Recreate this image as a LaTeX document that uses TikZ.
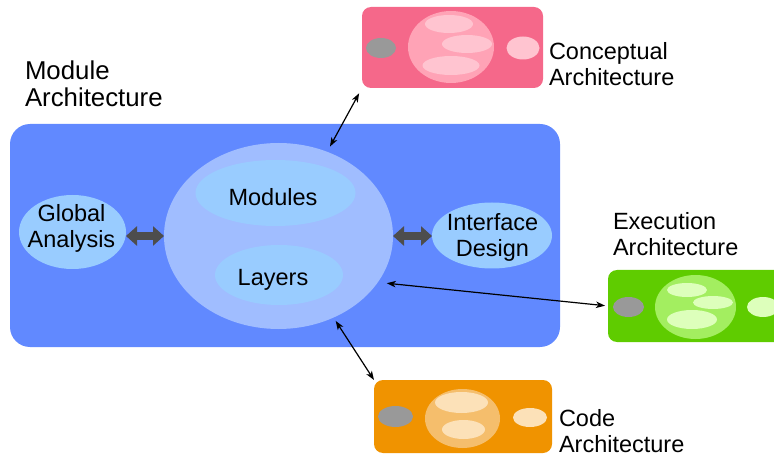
\documentclass[tikz,border=0pt]{standalone}
\usepackage{fontspec}
\setmainfont{Liberation Sans}
\usetikzlibrary{shapes.geometric,arrows.meta,calc}

% palette
\definecolor{mainblue}{HTML}{6189FF}
\definecolor{coreblue}{HTML}{A0BDFF}
\definecolor{paleblue}{HTML}{99CCFF}
\definecolor{fatgray}{HTML}{4D4D4D}
\definecolor{dotgray}{HTML}{999999}
\definecolor{pinkbox}{HTML}{F5688A}
\definecolor{pinkball}{HTML}{FFA3B6}
\definecolor{pinkspot}{HTML}{FFC4D0}
\definecolor{greenbox}{HTML}{5FCC00}
\definecolor{greenball}{HTML}{A3EE60}
\definecolor{greenspot}{HTML}{DDFFBB}
\definecolor{orangebox}{HTML}{F09300}
\definecolor{orangeball}{HTML}{F5BE6C}
\definecolor{orangespot}{HTML}{FCE1B8}

\begin{document}
\begin{tikzpicture}[x=1pt,y=-1pt,
  txt/.style={font=\fontsize{23.5}{26}\selectfont, inner sep=0pt, outer sep=0pt},
  lbl/.style={txt, align=left, anchor=base west},
  biglbl/.style={lbl, font=\fontsize{25.8}{27}\selectfont},
  inlbl/.style={txt, align=center, anchor=base},
  panel/.style={rectangle, draw=none, inner sep=0pt, outer sep=0pt},
  blob/.style={ellipse, draw=none, inner sep=0pt, outer sep=0pt},
  fat/.style={draw=fatgray, line width=8.5pt,
    {Triangle[length=11pt,width=19pt]}-{Triangle[length=11pt,width=19pt]}},
  conn/.style={draw=black, line width=1.2pt,
    {Stealth[length=9pt,width=6.5pt,inset=2.5pt]}-{Stealth[length=9pt,width=6.5pt,inset=2.5pt]}}]
\useasboundingbox (0,0) rectangle (774,457);
\clip (0,0) rectangle (774,457);

% ---- module architecture block ----
\node[panel, fill=mainblue, minimum width=550pt, minimum height=223pt, rounded corners=20pt] (module) at (285,235.5) {};
\node[blob, fill=coreblue, minimum width=229pt, minimum height=186pt] (core) at (278.5,236) {};
\node[blob, fill=paleblue, minimum width=160pt, minimum height=66pt] (modules) at (275.5,193) {};
\node[blob, fill=paleblue, minimum width=128pt, minimum height=60pt] (layers) at (279,275) {};
\node[blob, fill=paleblue, minimum width=107pt, minimum height=74pt] (global) at (72.5,232) {};
\node[blob, fill=paleblue, minimum width=120pt, minimum height=66pt] (iface) at (492,235.5) {};

% multi-line labels are anchored on the baseline of their last line
\node[inlbl] (tmodules) at (273,206) {Modules};
\node[inlbl] (tlayers) at (273,285) {Layers};
\node[inlbl] (tglobal) at (71.5,248) {Global\\Analysis};
\node[inlbl] (tiface) at (492.5,257) {Interface\\Design};

\draw[fat] (global.east |- core.west) -- (core.west);
\draw[fat] (core.east) -- (iface.west |- core.east);

\node[biglbl] (tmodule) at (25,107) {Module\\Architecture};

% ---- conceptual architecture ----
\node[panel, fill=pinkbox, minimum width=181pt, minimum height=81pt, rounded corners=9pt] (concept) at (452.5,47.5) {};
\node[blob, fill=dotgray, minimum width=30pt, minimum height=20pt] (cgray) at (381,48) {};
\node[blob, fill=pinkball, minimum width=86pt, minimum height=72pt] (cball) at (451,47) {};
\node[blob, fill=pinkspot, minimum width=48pt, minimum height=18pt] (cs1) at (449,24) {};
\node[blob, fill=pinkspot, minimum width=50pt, minimum height=18pt] (cs2) at (467,44) {};
\node[blob, fill=pinkspot, minimum width=57pt, minimum height=19pt] (cs3) at (451,65.5) {};
\node[blob, fill=pinkspot, minimum width=33pt, minimum height=23pt] (cright) at (523,48) {};
\node[lbl] (tconcept) at (549,86) {Conceptual\\Architecture};

% ---- execution architecture ----
\node[panel, fill=greenbox, minimum width=178pt, minimum height=72pt, rounded corners=9pt] (exec) at (697,306) {};
\node[blob, fill=dotgray, minimum width=31pt, minimum height=20pt] (egray) at (628.5,307) {};
\node[blob, fill=greenball, minimum width=81pt, minimum height=64pt] (eball) at (695.5,307) {};
\node[blob, fill=greenspot, minimum width=40pt, minimum height=14pt] (es1) at (687,290) {};
\node[blob, fill=greenspot, minimum width=40pt, minimum height=13pt] (es2) at (713,302.5) {};
\node[blob, fill=greenspot, minimum width=50pt, minimum height=19pt] (es3) at (692,319.5) {};
\node[blob, fill=greenspot, minimum width=32pt, minimum height=20pt] (eright) at (763,307) {};
\node[lbl] (texec) at (613,256) {Execution\\Architecture};

% ---- code architecture ----
\node[panel, fill=orangebox, minimum width=178pt, minimum height=73pt, rounded corners=9pt] (code) at (463,416.5) {};
\node[blob, fill=dotgray, minimum width=35pt, minimum height=21pt] (kgray) at (395.5,416.5) {};
\node[blob, fill=orangeball, minimum width=75pt, minimum height=59pt] (kball) at (462.5,418.5) {};
\node[blob, fill=orangespot, minimum width=53pt, minimum height=21pt] (ks1) at (461.5,402.5) {};
\node[blob, fill=orangespot, minimum width=43pt, minimum height=19pt] (ks2) at (463.5,429.5) {};
\node[blob, fill=orangespot, minimum width=34pt, minimum height=19pt] (kright) at (530,417.5) {};
\node[lbl] (tcode) at (559,452) {Code\\Architecture};

% ---- links between the views ----
\draw[conn, shorten <=6pt, shorten >=6pt] (concept.south west) -- (core.60);
\draw[conn, shorten <=9pt, shorten >=3pt] (core.-25) -- (exec.west);
\draw[conn, shorten <=4pt] (core.-56) -- (code.north west);
\end{tikzpicture}
\end{document}
